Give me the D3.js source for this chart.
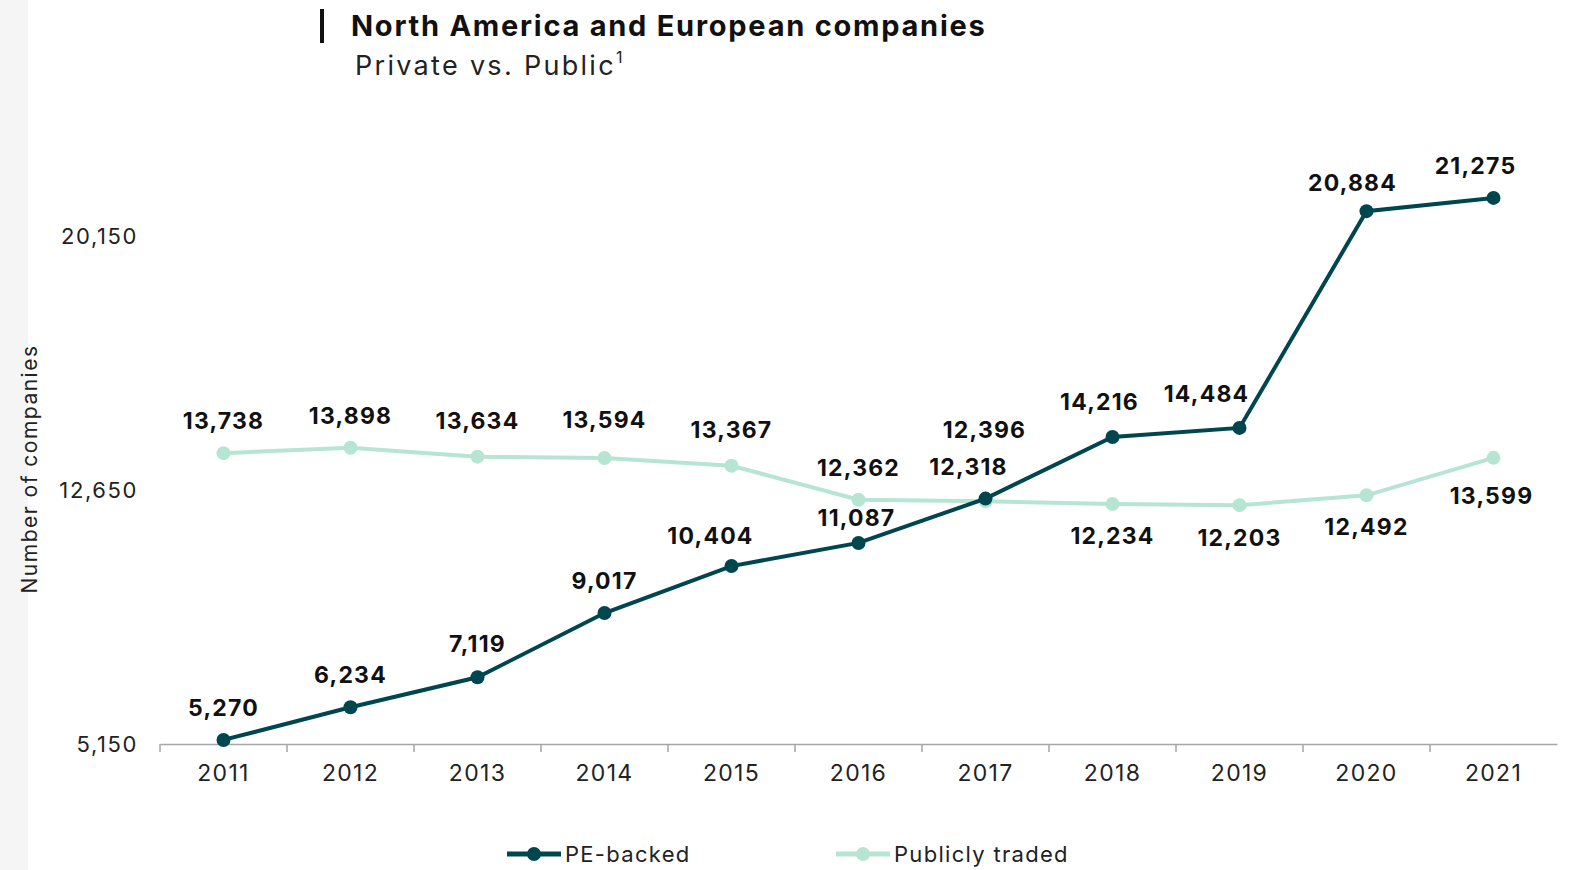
<!DOCTYPE html>
<html><head><meta charset="utf-8">
<script src="https://cdn.jsdelivr.net/npm/d3@7"></script>
<style>
html,body{margin:0;padding:0;background:#fff;overflow:hidden;}
svg{display:block;font-family:Inter,"Noto Sans",sans-serif;}
</style></head>
<body><svg id="c" width="1573" height="870"></svg>
<script>
const years = ["2011","2012","2013","2014","2015","2016","2017","2018","2019","2020","2021"];
const peBacked = [5270,6234,7119,9017,10404,11087,12396,14216,14484,20884,21275];
const publiclyTraded = [13738,13898,13634,13594,13367,12362,12318,12234,12203,12492,13599];
const yTicks = [5150,12650,20150];
const seriesNames = ["PE-backed","Publicly traded"];
// label placement tweaks (dx, dy) per point
const peLabelShift = [[0,-32],[0,-32],[0,-33],[0,-32],[-21,-30],[-2,-25],[-1,-69],[-13,-35],[-33,-34],[-14,-28],[-18,-32]];
const pubLabelShift = [[0,-32],[0,-32],[0,-36],[0,-38],[0,-36],[0,-32],[-17,-34],[0,32],[0,33],[0,32],[-2,38]];

const svg = d3.select("#c");
const colPE = "#00464f", colPub = "#b6e5d3";

svg.append("rect").attr("x",0).attr("y",0).attr("width",28).attr("height",870).attr("fill","#f5f5f5");

const x = d3.scaleBand().domain(years).range([160,1557]);
const y = d3.scaleLinear().domain([5150,20150]).range([744,236]);

// x axis
const xAxis = svg.append("g").attr("transform","translate(0,744)")
  .call(d3.axisBottom(x).tickSize(0).tickPadding(21));
xAxis.select(".domain").attr("stroke","#a6a6a6").attr("stroke-width",1.5);
xAxis.selectAll("text").attr("font-size",23).attr("letter-spacing",1.3).attr("fill","#222").attr("font-family","Inter");
const bounds = years.map(d=>x(d));
xAxis.selectAll(".sep").data(bounds).enter().append("line")
  .attr("x1",d=>d).attr("x2",d=>d).attr("y1",0).attr("y2",8).attr("stroke","#a6a6a6").attr("stroke-width",1.5);

// y axis labels
const yAxis = svg.append("g").attr("transform","translate(138,0)")
  .call(d3.axisLeft(y).tickValues(yTicks).tickSize(0).tickPadding(0).tickFormat(d3.format(",")));
yAxis.select(".domain").remove();
yAxis.selectAll("text").attr("font-size",22).attr("letter-spacing",1.6).attr("fill","#222").attr("font-family","Inter");

svg.append("text").attr("transform","translate(37,469) rotate(-90)")
  .attr("text-anchor","middle").attr("font-size",21).attr("letter-spacing",1.5).attr("fill","#222").text("Number of companies");

const cx = d => x(d) + x.bandwidth()/2;
const line = d3.line().x(d=>cx(d.year)).y(d=>y(d.v));

function drawSeries(vals, color){
  const data = years.map((yr,i)=>({year:yr,v:vals[i],i}));
  svg.append("path").datum(data).attr("d",line).attr("fill","none").attr("stroke",color).attr("stroke-width",4);
  svg.append("g").selectAll("circle").data(data).enter().append("circle")
    .attr("cx",d=>cx(d.year)).attr("cy",d=>y(d.v)).attr("r",7).attr("fill",color);
  return data;
}
const pubData = drawSeries(publiclyTraded, colPub);
const peData = drawSeries(peBacked, colPE);

function drawLabels(data, shifts){
  svg.append("g").selectAll("text").data(data).enter().append("text")
    .attr("x",d=>cx(d.year)+shifts[d.i][0]).attr("y",d=>y(d.v)+shifts[d.i][1])
    .attr("text-anchor","middle").attr("dominant-baseline","central")
    .attr("font-size",23).attr("letter-spacing",1.2).attr("font-weight",700).attr("fill","#111")
    .text(d=>d3.format(",")(d.v));
}
drawLabels(pubData, pubLabelShift);
drawLabels(peData, peLabelShift);

// title
svg.append("rect").attr("x",320).attr("y",9).attr("width",4).attr("height",34).attr("fill","#111");
svg.append("text").attr("x",351).attr("y",36).attr("font-size",29).attr("letter-spacing",1.75).attr("font-weight",700).attr("fill","#111")
  .text("North America and European companies");
const sub = svg.append("text").attr("x",355).attr("y",75).attr("font-size",27).attr("letter-spacing",2.3).attr("fill","#222");
sub.append("tspan").text("Private vs. Public");
sub.append("tspan").attr("font-size",16).attr("letter-spacing",0).attr("dy",-12).text("1");

// legend
const legend = [[507, colPE, seriesNames[0]],[836, colPub, seriesNames[1]]];
legend.forEach(([lx,c,t])=>{
  const g = svg.append("g");
  g.append("line").attr("x1",lx).attr("x2",lx+54).attr("y1",854).attr("y2",854).attr("stroke",c).attr("stroke-width",5);
  g.append("circle").attr("cx",lx+27).attr("cy",854).attr("r",7).attr("fill",c);
  g.append("text").attr("x",lx+58).attr("y",854).attr("dominant-baseline","central").attr("font-size",22).attr("letter-spacing",1.3).attr("fill","#222").text(t);
});
</script></body></html>
